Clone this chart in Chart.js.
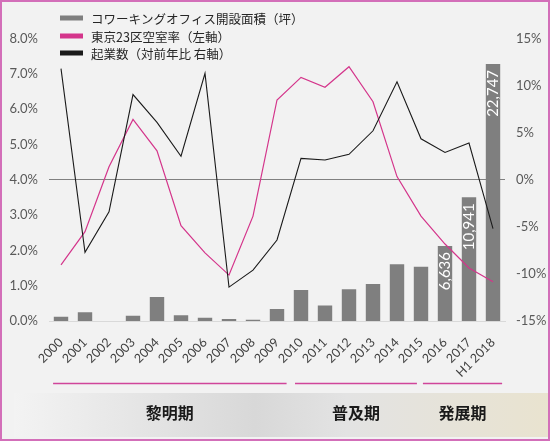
<!DOCTYPE html>
<html>
<head>
<meta charset="utf-8">
<script src="https://cdn.jsdelivr.net/npm/chart.js@4"></script>
<style>
  html, body { margin: 0; padding: 0; background: #f2f2f2; }
  #wrap { width: 550px; height: 441px; position: relative; }
</style>
</head>
<body>
<div id="wrap"><canvas id="chart"></canvas></div>
<script>
// ===== DATA =====
const years = ["2000", "2001", "2002", "2003", "2004", "2005", "2006", "2007", "2008", "2009",
    "2010", "2011", "2012", "2013", "2014", "2015", "2016", "2017", "H1 2018"];

// coworking office space opened (tsubo)
const coworkArea = [380, 765, 0, 470, 2125, 500, 295, 180, 120, 1060,
    2750, 1375, 2810, 3280, 5030, 4810, 6636, 10941, 22747];

// Tokyo 23 wards vacancy rate (%), left axis
const vacancyRate = [1.59, 2.53, 4.37, 5.71, 4.82, 2.70, 1.93, 1.30, 2.97, 6.26,
    6.90, 6.62, 7.20, 6.21, 4.09, 2.97, 2.18, 1.50, 1.11];

// new businesses, YoY change (%), right axis
const startupYoY = [11.8, -7.7, -3.4, 9.05, 6.1, 2.5, 11.3, -11.4, -9.6, -6.4,
    2.27, 2.1, 2.7, 5.2, 10.4, 4.35, 2.9, 3.9, -5.2];

const leftTicks = [0, 1, 2, 3, 4, 5, 6, 7, 8];
const rightTicks = [-15, -10, -5, 0, 5, 10, 15];

const seriesNames = ["コワーキングオフィス開設面積（坪）", "東京23区空室率（左軸）", "起業数（対前年比 右軸）"];

const periodNames = ["黎明期", "普及期", "発展期"];
const periodFrom = ["2000", "2010", "2015"];
const periodTo = ["2009", "2015", "H1 2018"];

// ===== STYLE =====
const GREY = "#7f7f7f";
const PINK = "#d4358b";
const BLACK = "#1a1a1a";
const FONT = "Lato, 'Noto Sans CJK JP', sans-serif";
const JP = "'Noto Sans CJK JP', sans-serif";

// background, period band, legend, border
const framePlugin = {
    id: "frame",
    beforeDraw(chart) {
        const { ctx, width, height } = chart;
        ctx.save();
        ctx.fillStyle = "#f2f2f2";
        ctx.fillRect(0, 0, width, height);
        ctx.restore();
    },
    afterDraw(chart) {
        const { ctx, width, height } = chart;
        const x = chart.scales.x;
        const step = x.getPixelForValue(1) - x.getPixelForValue(0);
        ctx.save();

        // gradient band
        const g = ctx.createLinearGradient(14, 0, width, 0);
        g.addColorStop(0, "#f3f3f3");
        g.addColorStop(0.45, "#d8d8d8");
        g.addColorStop(0.62, "#e3e3e3");
        g.addColorStop(1, "#e9e3cf");
        ctx.fillStyle = g;
        ctx.fillRect(14, 393, width - 14, 44);

        // period lines + names
        const pad = [[-0.33, 0.4], [-0.25, -0.17], [0.08, 0.38]];
        periodNames.forEach((name, i) => {
            const a = x.getPixelForValue(years.indexOf(periodFrom[i])) + pad[i][0] * step;
            const b = x.getPixelForValue(years.indexOf(periodTo[i])) + pad[i][1] * step;
            ctx.strokeStyle = "#d0459a";
            ctx.lineWidth = 1.3;
            ctx.beginPath();
            ctx.moveTo(a, 383.5);
            ctx.lineTo(b, 383.5);
            ctx.stroke();
            ctx.fillStyle = "#1a1a1a";
            ctx.font = "bold 16px " + JP;
            ctx.textAlign = "center";
            ctx.textBaseline = "middle";
            ctx.fillText(name, (a + b) / 2, 413);
        });

        // legend
        const colors = [GREY, PINK, BLACK];
        const rows = [18, 36, 53];
        seriesNames.forEach((name, i) => {
            ctx.fillStyle = colors[i];
            ctx.fillRect(60, rows[i] - 2.5, 23, 5);
            ctx.fillStyle = "#262626";
            ctx.font = "12.5px " + JP;
            ctx.textAlign = "left";
            ctx.textBaseline = "middle";
            ctx.fillText(name, 91, rows[i] + 1);
        });

        // border
        ctx.strokeStyle = "#d36fb9";
        ctx.lineWidth = 2;
        ctx.strokeRect(1, 1, width - 2, height - 2);
        ctx.restore();
    }
};

// values inside the tall bars
const barLabelPlugin = {
    id: "barLabels",
    afterDatasetsDraw(chart) {
        const { ctx } = chart;
        const meta = chart.getDatasetMeta(0);
        ctx.save();
        ctx.fillStyle = "#ffffff";
        ctx.font = "15px " + FONT;
        ctx.textAlign = "right";
        ctx.textBaseline = "middle";
        meta.data.forEach((bar, i) => {
            const v = coworkArea[i];
            if (v < 6000) return;
            ctx.save();
            ctx.translate(bar.x, bar.y + 6);
            ctx.rotate(-Math.PI / 2);
            ctx.fillText(v.toLocaleString("en-US"), 0, 0);
            ctx.restore();
        });
        ctx.restore();
    }
};

new Chart(document.getElementById("chart"), {
    data: {
        labels: years,
        datasets: [
            {
                type: "bar",
                label: seriesNames[0],
                data: coworkArea,
                yAxisID: "yBar",
                backgroundColor: GREY,
                barPercentage: 0.6,
                categoryPercentage: 1,
                order: 3
            },
            {
                type: "line",
                label: seriesNames[1],
                data: vacancyRate,
                yAxisID: "yLeft",
                borderColor: PINK,
                borderWidth: 1.2,
                pointRadius: 0,
                tension: 0,
                order: 2
            },
            {
                type: "line",
                label: seriesNames[2],
                data: startupYoY,
                yAxisID: "yRight",
                borderColor: BLACK,
                borderWidth: 1.1,
                pointRadius: 0,
                tension: 0,
                order: 1
            }
        ]
    },
    options: {
        responsive: true,
        maintainAspectRatio: false,
        animation: false,
        layout: { padding: { top: 38.5, left: 0, right: 0, bottom: 0 } },
        plugins: {
            legend: { display: false },
            tooltip: { enabled: false }
        },
        scales: {
            x: {
                grid: { display: false },
                border: { color: "#d9d9d9" },
                ticks: {
                    autoSkip: false,
                    maxRotation: 45,
                    minRotation: 45,
                    padding: 6,
                    color: "#404040",
                    font: { family: FONT, size: 12.5 }
                },
                afterFit: s => { s.height = 120; }
            },
            yLeft: {
                position: "left",
                min: leftTicks[0],
                max: leftTicks[leftTicks.length - 1],
                afterBuildTicks: s => { s.ticks = leftTicks.map(v => ({ value: v })); },
                grid: { display: false },
                border: { display: false },
                ticks: {
                    padding: 3,
                    color: "#595959",
                    font: { family: FONT, size: 13 },
                    callback: v => v.toFixed(1) + "%"
                },
                afterFit: s => { s.width = 49; }
            },
            yRight: {
                position: "right",
                min: rightTicks[0],
                max: rightTicks[rightTicks.length - 1],
                afterBuildTicks: s => { s.ticks = rightTicks.map(v => ({ value: v })); },
                grid: {
                    drawTicks: false,
                    color: c => (c.tick && c.tick.value === 0) ? "#808080" : "rgba(0,0,0,0)"
                },
                border: { display: false },
                ticks: {
                    padding: 11,
                    color: "#595959",
                    font: { family: FONT, size: 13 },
                    callback: v => v + "%"
                },
                afterFit: s => { s.width = 45; }
            },
            yBar: {
                display: false,
                min: 0,
                max: 25000
            }
        }
    },
    plugins: [framePlugin, barLabelPlugin]
});
</script>
</body>
</html>
